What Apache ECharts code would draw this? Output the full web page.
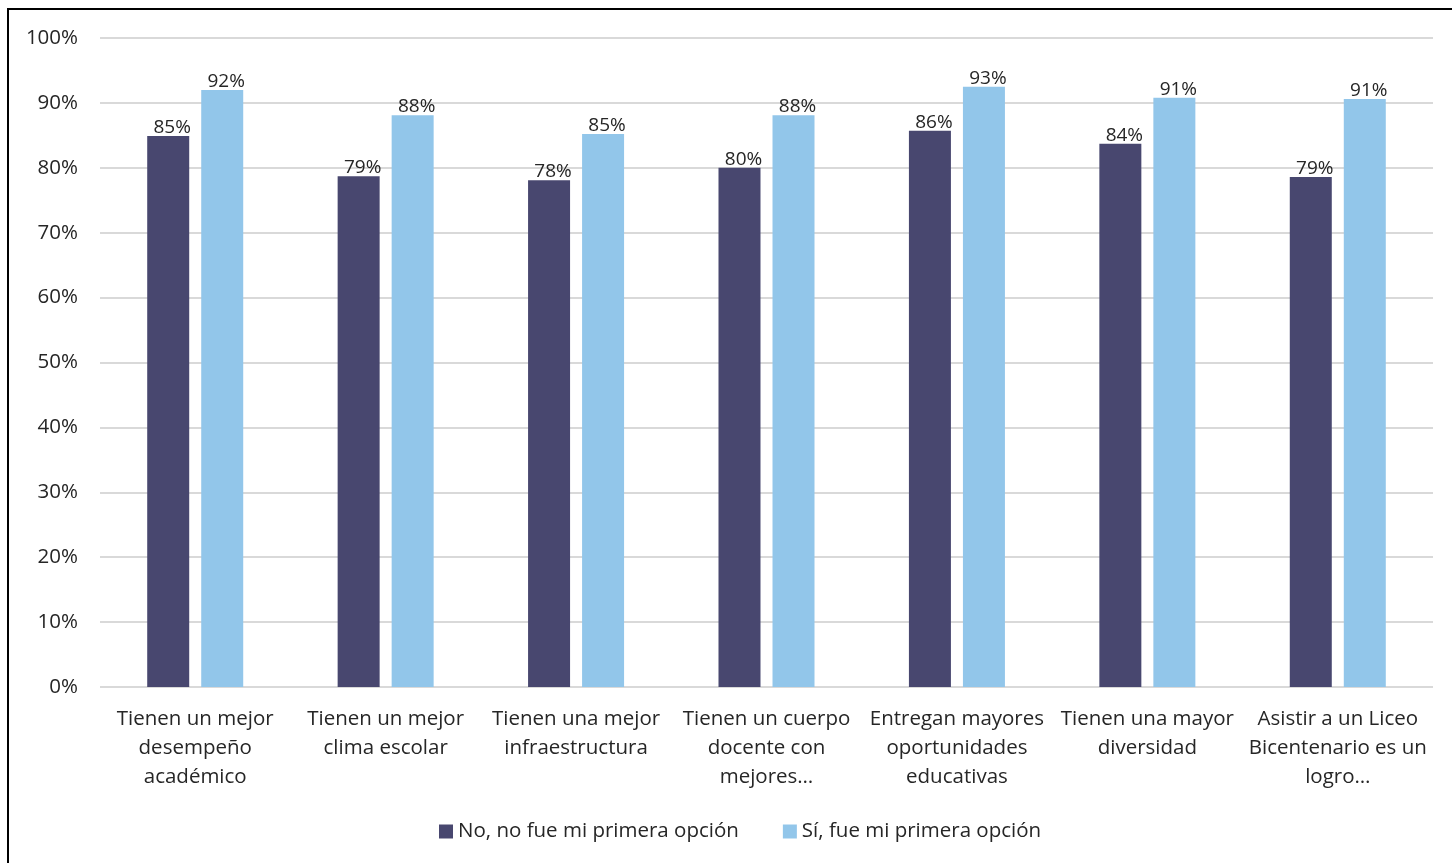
<!DOCTYPE html>
<html><head><meta charset="utf-8">
<script src="https://cdn.jsdelivr.net/npm/echarts@6/dist/echarts.min.js"></script>
<style>html,body{margin:0;padding:0;background:#fff}
#frame{position:absolute;left:7px;top:8px;width:1460px;height:870px;border:2px solid #000;box-sizing:border-box}
#c{position:absolute;left:0;top:0;width:1452px;height:863px}</style>
</head><body><div id="frame"></div><div id="c"></div>
<script>
const categories = [
  "Tienen un mejor\ndesempeño\nacadémico",
  "Tienen un mejor\nclima escolar",
  "Tienen una mejor\ninfraestructura",
  "Tienen un cuerpo\ndocente con\nmejores…",
  "Entregan mayores\noportunidades\neducativas",
  "Tienen una mayor\ndiversidad",
  "Asistir a un Liceo\nBicentenario es un\nlogro…"
];
const seriesNames = ["No, no fue mi primera opción", "Sí, fue mi primera opción"];
const noValues = [0.849, 0.787, 0.781, 0.800, 0.857, 0.837, 0.786];
const siValues = [0.920, 0.881, 0.852, 0.881, 0.925, 0.908, 0.906];
const yTicks = [0, 0.1, 0.2, 0.3, 0.4, 0.5, 0.6, 0.7, 0.8, 0.9, 1.0];

const font = "'Open Sans', Lato, sans-serif";
const chart = echarts.init(document.getElementById('c'));
const lbl = {
  show: true, position: 'top', distance: -1, offset: [4, 0],
  color: '#262626', fontSize: 19, fontFamily: font,
  formatter: p => Math.round(p.value * 100) + '%'
};
chart.setOption({
  animation: false,
  textStyle: {fontFamily: font},
  grid: {left: 100, right: 19, top: 38, bottom: 176, containLabel: false},
  legend: {
    top: 816, left: 434, itemWidth: 14, itemHeight: 14, itemGap: 44,
    icon: 'rect',
    textStyle: {fontSize: 20.5, color: '#262626', fontFamily: font},
    data: seriesNames
  },
  xAxis: {
    type: 'category', data: categories,
    axisLine: {show: false}, axisTick: {show: false},
    axisLabel: {color: '#262626', fontSize: 20.5, lineHeight: 29, margin: 18, interval: 0, fontFamily: font}
  },
  yAxis: {
    type: 'value', min: 0, max: 1, interval: 0.1,
    axisLabel: {color: '#262626', fontSize: 20.5, margin: 22, fontFamily: font,
      formatter: v => Math.round(v * 100) + '%'},
    splitLine: {lineStyle: {color: '#d9d9d9', width: 2}},
    axisLine: {show: false}, axisTick: {show: false}
  },
  series: [
    {name: seriesNames[0], type: 'bar', data: noValues, barWidth: 42, barGap: '28.6%',
      itemStyle: {color: '#48476F'}, label: lbl},
    {name: seriesNames[1], type: 'bar', data: siValues, barWidth: 42,
      itemStyle: {color: '#92C6EA'}, label: lbl}
  ]
});
</script></body></html>
